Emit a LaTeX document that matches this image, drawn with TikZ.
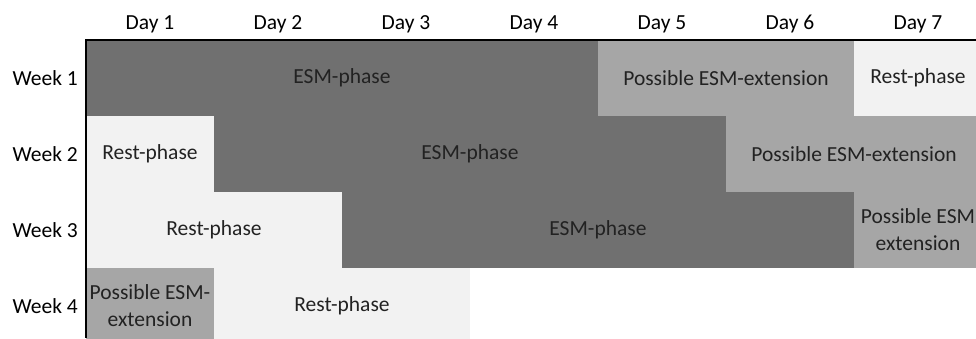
\documentclass[tikz,border=0pt]{standalone}
\usepackage{fontspec}
\setmainfont{Carlito}
\definecolor{esmdark}{HTML}{707070}
\definecolor{esmmid}{HTML}{A6A6A6}
\definecolor{restlight}{HTML}{F2F2F2}
\definecolor{txt}{HTML}{222222}
\begin{document}
\begin{tikzpicture}[x=1pt,y=-1pt,
  blk/.style={rectangle, draw=none, inner sep=0pt, minimum height=76pt, align=center, text=txt,
     font=\fontsize{21.5}{27}\selectfont},
  dark/.style={blk, fill=esmdark},
  mid/.style={blk, fill=esmmid},
  light/.style={blk, fill=restlight},
  hdr/.style={font=\fontsize{21.5}{26}\selectfont, text=black, inner sep=0pt}]
\useasboundingbox (0,0) rectangle (976,338);
\clip (0,0) rectangle (976,338);
% day headers
\foreach \d in {1,...,7}{
  \node[hdr] (day\d) at ({86+128*(\d-1)+64},24) {Day \d};
}
% week labels
\foreach \w in {1,...,4}{
  \node[hdr, anchor=east] (week\w) at (78,{40+76*(\w-1)+38}) {Week \w};
}
% week 1
\node[dark, minimum width=512pt] (w1esm) at (342,78) {ESM-phase};
\node[mid, minimum width=256pt] (w1ext) at (726,78) {Possible ESM-extension};
\node[light, minimum width=128pt] (w1rest) at (918,78) {Rest-phase};
% week 2
\node[light, minimum width=128pt] (w2rest) at (150,154) {Rest-phase};
\node[dark, minimum width=512pt] (w2esm) at (470,154) {ESM-phase};
\node[mid, minimum width=256pt] (w2ext) at (854,154) {Possible ESM-extension};
% week 3
\node[light, minimum width=256pt] (w3rest) at (214,230) {Rest-phase};
\node[dark, minimum width=512pt] (w3esm) at (598,230) {ESM-phase};
\node[mid, minimum width=128pt] (w3ext) at (918,230) {Possible ESM\\extension};
% week 4
\node[mid, minimum width=128pt] (w4ext) at (150,306) {Possible ESM-\\extension};
\node[light, minimum width=256pt] (w4rest) at (342,306) {Rest-phase};
% axes
\coordinate (origin) at (86,40);
\coordinate (topend) at (976,40);
\coordinate (leftend) at (86,338);
\draw[line width=2pt, black] (topend) -- (origin) -- (leftend);
\end{tikzpicture}
\end{document}
